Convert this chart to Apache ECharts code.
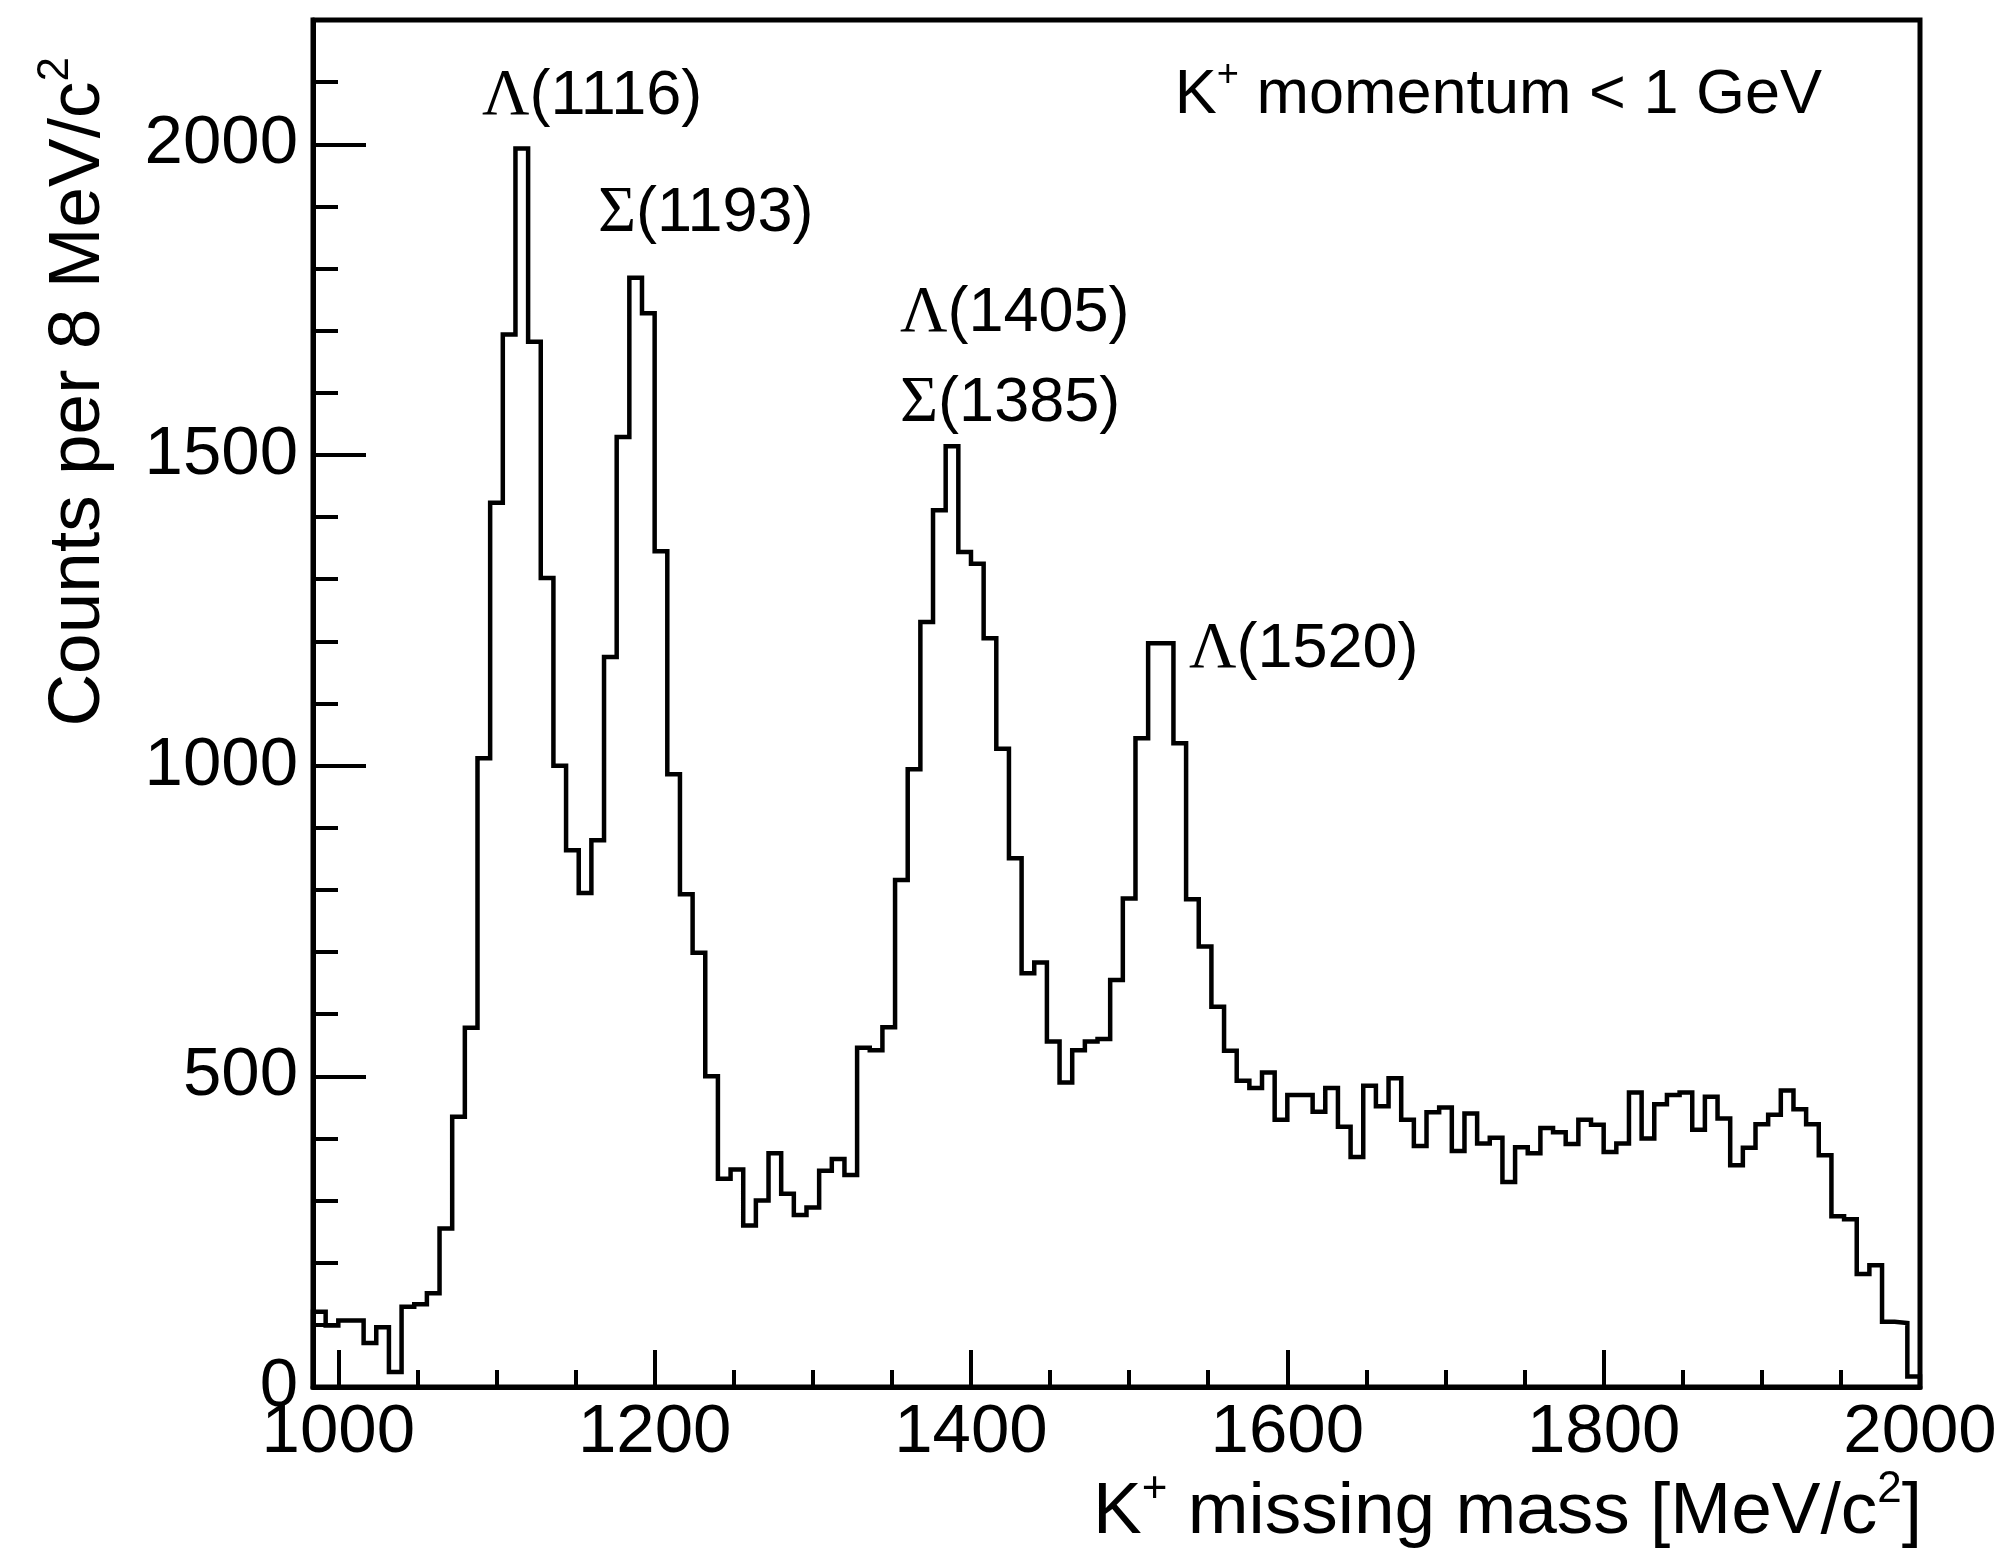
<!DOCTYPE html>
<html><head><meta charset="utf-8">
<script src="https://cdn.jsdelivr.net/npm/echarts@6/dist/echarts.min.js"></script>
<style>html,body{margin:0;padding:0;background:#fff}#c{width:2003px;height:1550px}</style>
</head><body><div id="c"></div>
<script>
// Histogram: 8 MeV/c^2 bins starting at 984 MeV/c^2
const binStart = 984;
const binWidth = 8;
const counts = [
  121, 99, 107, 107, 71, 96, 24, 129, 133, 151,
  255, 435, 578, 1012, 1423, 1694, 1993, 1682, 1302, 1000,
  864, 795, 880, 1175, 1529, 1785, 1728, 1345, 986, 793,
  699, 500, 335, 350, 260, 300, 376, 311, 277, 289,
  348, 367, 341, 546, 542, 579, 816, 994, 1231, 1411,
  1514, 1344, 1325, 1205, 1027, 851, 666, 683, 556, 490,
  542, 556, 560, 655, 786, 1044, 1197, 1197, 1036, 785,
  709, 612, 541, 493, 481, 506, 430, 470, 470, 443,
  481, 419, 370, 485, 452, 497, 430, 388, 442, 450,
  380, 440, 392, 401, 330, 386, 376, 417, 410, 391,
  430, 422, 378, 392, 474, 400, 455, 470, 474, 414,
  467, 432, 357, 385, 423, 438, 477, 447, 423, 373,
  275, 270, 182, 196, 105, 103, 17
];
const xMin = 984, xMax = 2000;
const yMin = 0, yMax = 2200;
const xMajorTicks = [1000, 1200, 1400, 1600, 1800, 2000];
const xMinorTicks = [1000, 1050, 1100, 1150, 1200, 1250, 1300, 1350, 1400, 1450, 1500, 1550, 1600, 1650, 1700, 1750, 1800, 1850, 1900, 1950, 2000];
const yMajorTicks = [0, 500, 1000, 1500, 2000];
const yMinorTicks = [0, 100, 200, 300, 400, 500, 600, 700, 800, 900, 1000, 1100, 1200, 1300, 1400, 1500, 1600, 1700, 1800, 1900, 2000, 2100, 2200];
const peakNames = ['{g|Λ}(1116)', '{g|Σ}(1193)', '{g|Λ}(1405)', '{g|Σ}(1385)', '{g|Λ}(1520)'];
const noteText = 'K{sup|+} momentum < 1 GeV';
const xTitle = 'K{sup|+} missing mass [MeV/c{sup|2}]';
const yTitle = 'Counts per 8 MeV/c{sup|2}';

// step outline built from bin edges
const stepData = [[binStart, 0]];
counts.forEach((c, i) => stepData.push([binStart + i * binWidth, c]));
stepData.push([binStart + counts.length * binWidth, counts[counts.length - 1]]);
stepData.push([binStart + counts.length * binWidth, 0]);

const SANS = 'Liberation Sans';
const SERIF = 'Liberation Serif';
function txt(text, x, y, align, size, rot) {
  const supSize = Math.round(size * 0.6);
  const lh = Math.round(size * 1.24);
  return {
    type: 'text', x: x, y: y, rotation: rot || 0, silent: true,
    style: {
      text: text, fill: '#000', fontFamily: SANS, fontSize: size, lineHeight: lh,
      textAlign: align, verticalAlign: 'middle',
      rich: {
        g: { fontFamily: SERIF, fontSize: size * 1.04, fill: '#000', lineHeight: lh },
        sup: { fontFamily: SANS, fontSize: supSize, fill: '#000', verticalAlign: 'top' }
      }
    }
  };
}
const plain = v => String(v);

const chart = echarts.init(document.getElementById('c'), null, { renderer: 'canvas' });
const tickStyle = { color: '#000', width: 4 };
chart.setOption({
  animation: false,
  backgroundColor: '#fff',
  grid: { left: 313, right: 83, top: 20, bottom: 163, show: true, borderColor: '#000', borderWidth: 5, containLabel: false },
  xAxis: [
    {
      type: 'value', min: xMin, max: xMax, position: 'bottom',
      axisLine: { show: true, onZero: false, lineStyle: { color: '#000', width: 5 } },
      axisTick: { show: true, inside: true, length: 37, customValues: xMajorTicks, lineStyle: tickStyle },
      axisLabel: { show: true, customValues: xMajorTicks, formatter: plain, fontFamily: SANS, fontSize: 69, color: '#000', margin: 11 },
      splitLine: { show: false }
    },
    {
      type: 'value', min: xMin, max: xMax, position: 'bottom',
      axisLine: { show: false, onZero: false },
      axisTick: { show: true, inside: true, length: 17, customValues: xMinorTicks, lineStyle: tickStyle },
      axisLabel: { show: false },
      splitLine: { show: false }
    }
  ],
  yAxis: [
    {
      type: 'value', min: yMin, max: yMax, position: 'left',
      axisLine: { show: true, onZero: false, lineStyle: { color: '#000', width: 5 } },
      axisTick: { show: true, inside: true, length: 53, customValues: yMajorTicks, lineStyle: tickStyle },
      axisLabel: { show: true, customValues: yMajorTicks, formatter: plain, fontFamily: SANS, fontSize: 69, color: '#000', margin: 15 },
      splitLine: { show: false }
    },
    {
      type: 'value', min: yMin, max: yMax, position: 'left',
      axisLine: { show: false, onZero: false },
      axisTick: { show: true, inside: true, length: 25, customValues: yMinorTicks, lineStyle: tickStyle },
      axisLabel: { show: false },
      splitLine: { show: false }
    }
  ],
  series: [{
    type: 'line', xAxisIndex: 0, yAxisIndex: 0, step: 'end', symbol: 'none',
    lineStyle: { color: '#000', width: 4.5, join: 'miter' }, data: stepData, clip: true, silent: true
  }],
  graphic: [
    txt(peakNames[0], 482, 97, 'left', 63),
    txt(peakNames[1], 598, 214, 'left', 63),
    txt(peakNames[2], 900, 314, 'left', 63),
    txt(peakNames[3], 900, 404, 'left', 63),
    txt(peakNames[4], 1189, 650, 'left', 63),
    txt(noteText, 1822, 96, 'right', 63),
    txt(xTitle, 1922, 1513, 'right', 73),
    txt(yTitle, 79, 57, 'right', 73, Math.PI / 2)
  ]
});
</script>
</body></html>
